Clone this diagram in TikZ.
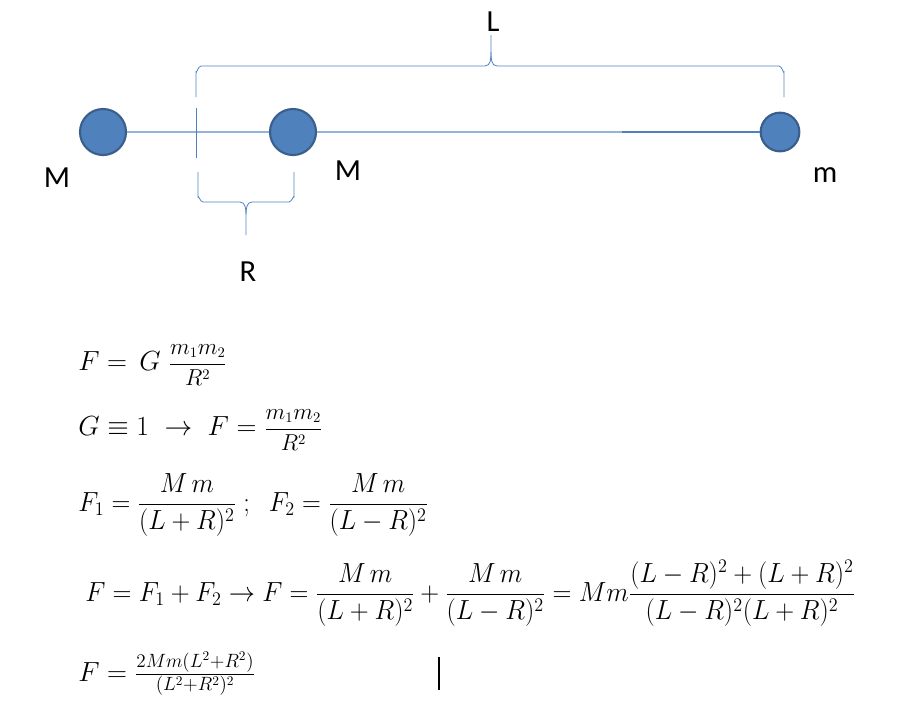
\documentclass[tikz,border=0pt]{standalone}
\usepackage{amsmath}
\usepackage{graphicx}
\usepackage{fontspec}
\setmainfont{Carlito}
\begin{document}
\begin{tikzpicture}[x=0.75pt,y=-0.75pt]
\definecolor{ballfill}{HTML}{4F81BD}
\definecolor{balledge}{HTML}{3A5F8C}
\definecolor{rodcol}{HTML}{95B3D7}
\definecolor{bracecol}{HTML}{4F81BD}
\tikzset{
  ball/.style={circle,fill=ballfill,draw=balledge,line width=1.6pt,inner sep=0pt},
  rod/.style={draw=rodcol,line width=1.2pt},
  bracel/.style={draw=bracecol,line width=0.6pt},
  lbl/.style={font=\fontsize{23}{26}\selectfont,inner sep=0pt},
  eqa/.style={anchor=base west,inner sep=0pt,font=\fontsize{20}{24}\selectfont},
  eqb/.style={anchor=base west,inner sep=0pt,font=\fontsize{20.5}{25}\selectfont},
}
\useasboundingbox (0,0) rectangle (919,722);
% balls
\node[ball,minimum size=34.5pt] (b1) at (103,132) {};
\node[ball,minimum size=34.5pt] (b2) at (293,132) {};
\node[ball,minimum size=29pt] (b3) at (780,132) {};
\coordinate (mid) at (622,132);
\draw[rod] (b1) -- (b2);
\draw[rod] (b2) -- (b3);
\draw[draw=ballfill,line width=1pt] (mid) -- (b3);
% tick
\coordinate (t1) at (196,108);
\coordinate (t2) at (196,158);
\draw[bracel] (t1) -- (t2);
% top brace
\draw[bracel] (196,97) -- (196,72) to[out=-90,in=180] (201,66) -- (485,66)
  to[out=0,in=-90] (491,52) -- (491,35);
\draw[bracel] (491,52) to[out=-90,in=180] (497,66) -- (779,66) to[out=0,in=-90] (784,72) -- (784,97);
% bottom brace
\draw[bracel] (198,172) -- (198,197) to[out=90,in=180] (203,202) -- (240,202)
  to[out=0,in=90] (246,214) -- (246,235);
\draw[bracel] (246,214) to[out=90,in=180] (252,202) -- (289,202) to[out=0,in=90] (294,197) -- (294,172);
% labels
\node[lbl] (Lt) at (493,22) {L};
\node[lbl] (Rt) at (248,272) {R};
\node[lbl] (M1) at (57,178) {M};
\node[lbl] (M2) at (348,171) {M};
\node[lbl] (m3) at (825,175) {m};
% equations
\node[eqa] (e1) at (78,370) {$F=\,G\;$\mbox{\fontsize{16}{18}\selectfont$\dfrac{m_1m_2}{R^2}$}};
\node[eqa] (e2) at (78,435) {$G\equiv 1\;\rightarrow\;F=\;$\mbox{\fontsize{16}{18}\selectfont$\dfrac{m_1m_2}{R^2}$}};
\node[eqb] (e3) at (78,511) {\resizebox{262.5pt}{\height}{$F_1=\dfrac{M\,m}{(L+R)^2}\;;\;\;F_2=\dfrac{M\,m}{(L-R)^2}$}};
\node[eqb] (e4) at (85,601) {\resizebox{577.5pt}{\height}{$F=F_1+F_2\rightarrow F=\dfrac{M\,m}{(L+R)^2}+\dfrac{M\,m}{(L-R)^2}=Mm\dfrac{(L-R)^2+(L+R)^2}{(L-R)^2(L+R)^2}$}};
\node[eqa] (e5) at (78,681) {$F=\tfrac{2Mm(L^2+R^2)}{(L^2+R^2)^2}$};
\coordinate (c1) at (439,657);
\coordinate (c2) at (439,690);
\draw[line width=1.2pt] (c1) -- (c2);
\end{tikzpicture}
\end{document}
